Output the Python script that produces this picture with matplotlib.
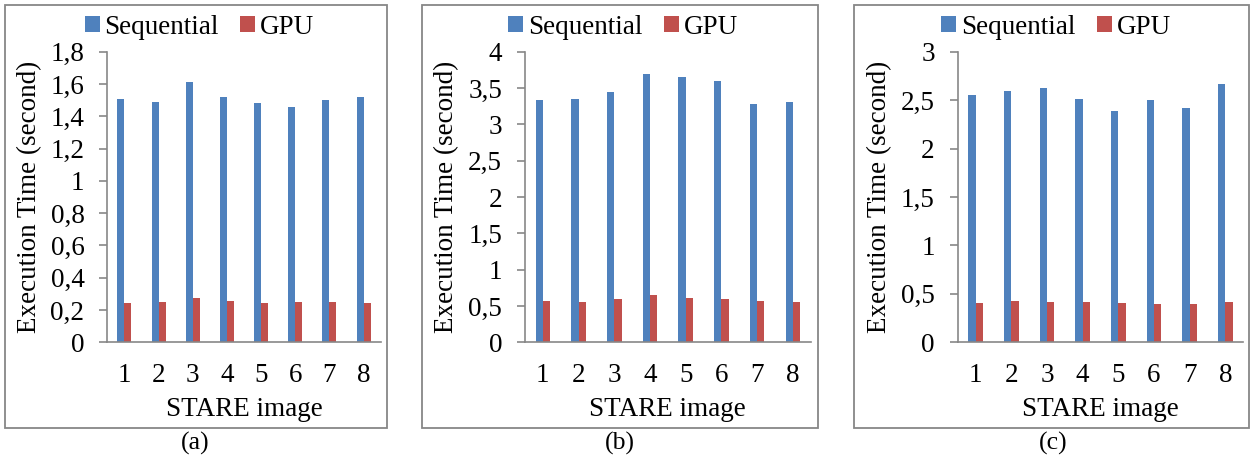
import matplotlib
matplotlib.use('Agg')
import matplotlib.pyplot as plt
import numpy as np
from matplotlib.patches import Rectangle
from matplotlib.ticker import FuncFormatter

plt.rcParams['font.family'] = ['Liberation Serif', 'DejaVu Serif']

images = [1, 2, 3, 4, 5, 6, 7, 8]
seq_a = [1.51, 1.49, 1.61, 1.52, 1.48, 1.46, 1.50, 1.52]
gpu_a = [0.245, 0.247, 0.272, 0.254, 0.243, 0.25, 0.25, 0.245]
seq_b = [3.34, 3.35, 3.45, 3.69, 3.65, 3.59, 3.28, 3.31]
gpu_b = [0.57, 0.56, 0.59, 0.656, 0.615, 0.60, 0.57, 0.56]
seq_c = [2.55, 2.59, 2.625, 2.51, 2.39, 2.50, 2.42, 2.67]
gpu_c = [0.41, 0.43, 0.416, 0.416, 0.41, 0.40, 0.40, 0.42]
ymax = [1.8, 4, 3]
ystep = [0.2, 0.5, 0.5]
captions = ['(a)', '(b)', '(c)']

W, H = 1250, 461
BLUE = '#4F81BD'
RED = '#C0504D'
GRAY = '#878787'
FS = 19.5

# pixel layout: axes (left, right, top, bottom), frame (left, right, top, bottom)
axes_px = [(107.3, 380.7, 51.7, 342.3), (525, 810.7, 51.7, 342.3), (957.7, 1243.3, 51.7, 342.3)]
frame_px = [(4.5, 387.3, 4.5, 427.5), (421.7, 817.7, 4.5, 427.5), (854, 1249, 4.5, 427.5)]
ylabel_x = [30, 447, 880]
legend_cx = [199.5, 623, 1056]
caption_cx = [195, 620, 1052.7]

fig = plt.figure(figsize=(12.5, 4.61), dpi=100)


def fx(px):
    return px / W


def fy(py):
    return 1 - py / H


def comma(v, pos):
    return ('%g' % v).replace('.', ',')


data = [(seq_a, gpu_a), (seq_b, gpu_b), (seq_c, gpu_c)]
x = np.array(images)
w = 0.205

for i, (seq, gpu) in enumerate(data):
    l, r, t, b = axes_px[i]
    ax = fig.add_axes([fx(l), fy(b), fx(r) - fx(l), fy(t) - fy(b)])
    h1 = ax.bar(x - w / 2, seq, w, color=BLUE, label='Sequential')
    h2 = ax.bar(x + w / 2, gpu, w, color=RED, label='GPU')
    ax.set_xlim(0.5, 8.5)
    ax.set_ylim(0, ymax[i])
    ax.set_yticks(np.arange(0, ymax[i] + 1e-9, ystep[i]))
    ax.yaxis.set_major_formatter(FuncFormatter(comma))
    ax.set_xticks(x)
    ax.set_xticklabels([str(v) for v in images])
    for s in ['top', 'right']:
        ax.spines[s].set_visible(False)
    for s in ['left', 'bottom']:
        ax.spines[s].set_color(GRAY)
        ax.spines[s].set_linewidth(1.2)
    ax.tick_params(axis='y', length=5.5, width=1.2, color=GRAY, pad=11, labelsize=FS)
    ax.tick_params(axis='x', length=0, pad=15, labelsize=FS)
    ax.patch.set_alpha(0)
    ax.set_xlabel('STARE image', fontsize=FS, va='center')
    ax.xaxis.set_label_coords(0.5, (b - 409) / (b - t))
    ax.set_ylabel('Execution Time (second)', fontsize=FS, va='center')
    ax.yaxis.set_label_coords((ylabel_x[i] - l) / (r - l), 0.5)

    fig.legend([h1, h2], ['Sequential', 'GPU'], loc='center',
               bbox_to_anchor=(fx(legend_cx[i]), fy(27)), ncol=2, frameon=False,
               fontsize=FS, handlelength=0.55, handleheight=0.55,
               handletextpad=0.17, columnspacing=0.8, borderpad=0)

    fl, fr, ft, fb = frame_px[i]
    fig.patches.append(Rectangle((fx(fl), fy(fb)), fx(fr) - fx(fl), fy(ft) - fy(fb),
                                 transform=fig.transFigure, fill=False,
                                 edgecolor=GRAY, linewidth=1.3))
    fig.text(fx(caption_cx[i]), fy(443), captions[i], ha='center', va='center', fontsize=18.5)

fig.savefig('out.png', dpi=100)
